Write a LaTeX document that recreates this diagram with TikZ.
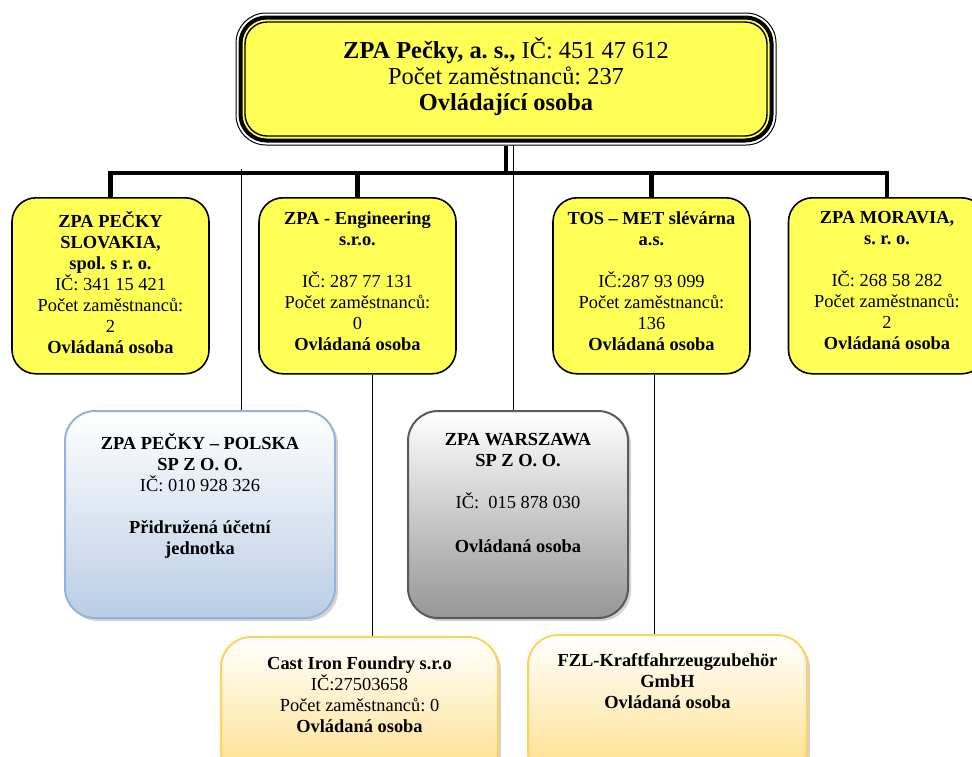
\documentclass[tikz,border=0pt]{standalone}
\usepackage{fontspec}
\setmainfont{Liberation Serif}
\usetikzlibrary{positioning,shadows}
\frenchspacing

\definecolor{zpayellow}{RGB}{255,255,85}
\definecolor{polskablue}{RGB}{185,205,229}
\definecolor{polskaline}{RGB}{149,179,215}
\definecolor{warsgray}{RGB}{150,150,150}
\definecolor{warsline}{RGB}{90,90,90}
\definecolor{foundryfill}{RGB}{255,222,135}
\definecolor{foundryline}{RGB}{255,210,95}

\begin{document}
\begin{tikzpicture}[x=0.5pt, y=-0.5pt,
    topframe/.style={draw, rounded corners=15pt, line width=0.5pt, minimum width=270pt, minimum height=66pt},
    topbox/.style={draw, rounded corners=13pt, line width=2pt, fill=zpayellow, minimum width=265.5pt, minimum height=61.5pt},
    topinner/.style={draw, rounded corners=11pt, line width=0.7pt, minimum width=261pt, minimum height=57pt},
    childbox/.style={draw, rounded corners=12pt, line width=0.8pt, fill=zpayellow, minimum width=98.5pt, minimum height=88pt, anchor=north},
    lowbox/.style={rounded corners=15pt, line width=1pt, anchor=north, drop shadow={shadow xshift=1.5pt, shadow yshift=-1.5pt, opacity=.35}},
    boxtext/.style={align=center, inner sep=0pt, font=\fontsize{9.2}{10.5}\selectfont, execute at begin node=\strut},
    trunk/.style={line width=2.2pt},
    link/.style={line width=0.5pt}
]
    \useasboundingbox (0,0) rectangle (972,756);
    \clip (0,0) rectangle (972,756);

    % draw controlling company
    \node[topframe] (top frame) at (506,79) {};
    \node[topbox] (top) at (506,79) {};
    \node[topinner] (top inner) at (506,79) {};
    \node[boxtext, font=\fontsize{12.2}{13.2}\selectfont] (top text) at (506,78) {\textbf{ZPA Pečky, a. s.,} IČ: 451 47 612\\ Počet zaměstnanců: 237\\ \textbf{Ovládající osoba}};

    % draw controlled companies
    \node[childbox] (slovakia) at (110.5,197) {};
    \node[childbox] (engineering) at (357.5,197) {};
    \node[childbox] (tos) at (651.5,197) {};
    \node[childbox] (moravia) at (887,197) {};

    \node[boxtext, below=7pt of slovakia.north] (slovakia text) {\textbf{ZPA PEČKY}\\ \textbf{SLOVAKIA,}\\ \textbf{spol. s r. o.}\\ IČ: 341 15 421\\ Počet zaměstnanců:\\ 2\\ \textbf{Ovládaná osoba}};
    \node[boxtext, below=7pt of engineering.north] (engineering text) {\textbf{ZPA - Engineering}\\ \textbf{s.r.o.}\\[10.5pt] IČ: 287 77 131\\ Počet zaměstnanců:\\ 0\\ \textbf{Ovládaná osoba}};
    \node[boxtext, below=7pt of tos.north] (tos text) {\textbf{TOS – MET slévárna}\\ \textbf{a.s.}\\[10.5pt] IČ:287 93 099\\ Počet zaměstnanců:\\ 136\\ \textbf{Ovládaná osoba}};
    \node[boxtext, below=7pt of moravia.north] (moravia text) {\textbf{ZPA MORAVIA,}\\ \textbf{s. r. o.}\\[10.5pt] IČ: 268 58 282\\ Počet zaměstnanců:\\ 2\\ \textbf{Ovládaná osoba}};

    % draw the lower companies
    \node[lowbox, draw=polskaline, top color=white, bottom color=polskablue, minimum width=135pt, minimum height=103.5pt] (polska) at (200,410) {};
    \node[lowbox, draw=warsline, top color=white, bottom color=warsgray, minimum width=110pt, minimum height=103.5pt] (warszawa) at (518,410) {};
    \node[lowbox, draw=foundryline, top color=white, bottom color=foundryfill, minimum width=138.5pt, minimum height=72pt] (foundry) at (359.5,636) {};
    \node[lowbox, draw=foundryline, top color=white, bottom color=foundryfill, minimum width=139.5pt, minimum height=73pt] (fzl) at (667.5,634) {};

    \node[boxtext, below=11.5pt of polska.north] (polska text) {\textbf{ZPA PEČKY – POLSKA}\\ \textbf{SP Z O. O.}\\ IČ: 010 928 326\\[10.5pt] \textbf{Přidružená účetní}\\ \textbf{jednotka}};
    \node[boxtext, below=11.5pt of warszawa.north] (warszawa text) {\textbf{ZPA WARSZAWA}\\ \textbf{SP Z O. O.}\\[10.5pt] IČ:~~015 878 030\\[11.5pt] \textbf{Ovládaná osoba}};
    \node[boxtext, below=10pt of foundry.north] (foundry text) {\textbf{Cast Iron Foundry s.r.o}\\ IČ:27503658\\ Počet zaměstnanců: 0\\ \textbf{Ovládaná osoba}};
    \node[boxtext, below=9.5pt of fzl.north] (fzl text) {\textbf{FZL-Kraftfahrzeugzubehör}\\ \textbf{GmbH}\\ \textbf{Ovládaná osoba}};

    % draw thick connectors
    \coordinate (fork) at (506,173);
    \draw[trunk] (top frame.south) -- (fork);
    \foreach \child in {slovakia,engineering,tos,moravia}
        \draw[trunk] (fork) -| (\child.north);

    % draw thin connectors
    \coordinate (polska tap) at (241,169);
    \coordinate (warszawa tap) at (513,145);
    \coordinate (foundry tap) at (372,0);
    \coordinate (fzl tap) at (654,0);
    \draw[link] (polska tap) -- (polska tap |- polska.north);
    \draw[link] (warszawa tap) -- (warszawa tap |- warszawa.north);
    \draw[link] (engineering.south -| foundry tap) -- (foundry.north -| foundry tap);
    \draw[link] (tos.south -| fzl tap) -- (fzl.north -| fzl tap);
\end{tikzpicture}
\end{document}
